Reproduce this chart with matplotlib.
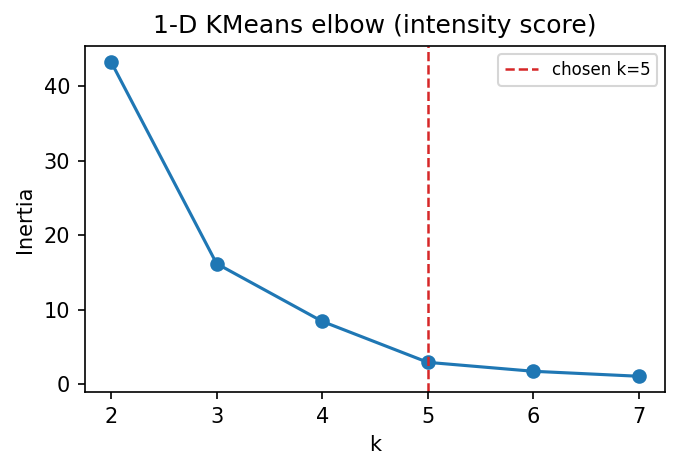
import matplotlib
matplotlib.use('Agg')
import matplotlib.pyplot as plt

# data
ks = [2, 3, 4, 5, 6, 7]
inertia = [43.3, 16.2, 8.45, 2.95, 1.75, 1.08]
chosen_k = 5

fig = plt.figure(figsize=(680 / 150, 470 / 150), dpi=150)
ax = fig.add_axes([84.6 / 680, 1 - 392 / 470, (665.4 - 84.6) / 680, (392 - 46) / 470])

ax.plot(ks, inertia, marker='o', color='#1f77b4')
ax.axvline(chosen_k, color='#d62728', linestyle='--', linewidth=1.2, label=f'chosen k={chosen_k}')
ax.set_xlabel('k')
ax.set_ylabel('Inertia')
ax.set_title('1-D KMeans elbow (intensity score)')
ax.legend(fontsize=8)

fig.savefig('out.png', dpi=150)
